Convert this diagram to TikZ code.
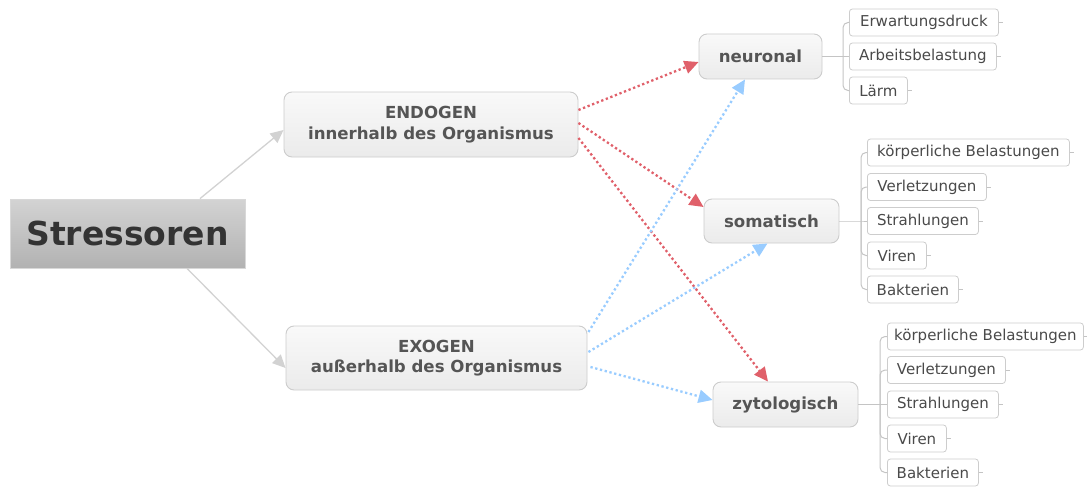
\documentclass[tikz,border=0pt]{standalone}
\usepackage{fontspec}
\setmainfont{DejaVu Sans}
\usetikzlibrary{arrows.meta,calc}
\definecolor{roottop}{HTML}{D3D3D3}
\definecolor{rootbot}{HTML}{B2B2B2}
\definecolor{rootborder}{HTML}{D8D8D8}
\definecolor{roottext}{HTML}{333333}
\definecolor{boxtop}{HTML}{F9F9F9}
\definecolor{boxbot}{HTML}{EBEBEB}
\definecolor{boxborder}{HTML}{CCCCCC}
\definecolor{boxtext}{HTML}{555555}
\definecolor{leafborder}{HTML}{CDCDCD}
\definecolor{leaftext}{HTML}{4A4A4A}
\definecolor{spinegray}{HTML}{C4C4C4}
\definecolor{linkgray}{HTML}{D2D2D2}
\definecolor{linkred}{HTML}{E0606A}
\definecolor{linkblue}{HTML}{99CCFF}
\begin{document}
\begin{tikzpicture}[x=1pt,y=-1pt,
  rootbox/.style={draw=rootborder, line width=0.8pt, top color=roottop, bottom color=rootbot,
    minimum width=235pt, minimum height=69pt, inner sep=0pt,
    font=\fontsize{33}{36}\selectfont\bfseries, text=roottext},
  mainbox/.style={draw=boxborder, line width=0.9pt, rounded corners=8pt, top color=boxtop,
    bottom color=boxbot, inner sep=0pt, font=\fontsize{16.6}{20.5}\selectfont\bfseries,
    text=boxtext, align=center},
  leaf/.style={draw=leafborder, line width=0.8pt, rounded corners=3pt, fill=white,
    minimum height=27pt, inner sep=0pt, font=\fontsize{15}{18}\selectfont,
    text=leaftext, anchor=west},
  spine/.style={draw=spinegray, line width=1pt},
  graylink/.style={draw=linkgray, line width=1.3pt, -{Triangle[length=13pt,width=12pt,fill=linkgray]}},
  redlink/.style={draw=linkred, line width=2.3pt, dash pattern=on 2.3pt off 2.6pt,
    -{Triangle[length=14pt,width=13pt,fill=linkred]}},
  bluelink/.style={draw=linkblue, line width=2.3pt, dash pattern=on 2.3pt off 2.6pt,
    -{Triangle[length=14pt,width=13pt,fill=linkblue]}}
]
\useasboundingbox (0,0) rectangle (1087,487);

% main nodes
\node[rootbox] (str) at (127.5,233.5) {Stressoren};
\node[mainbox, minimum width=294pt, minimum height=65pt] (endo) at (431,124.5) {ENDOGEN\\innerhalb des Organismus};
\node[mainbox, minimum width=301pt, minimum height=64pt] (exo) at (436.5,358) {EXOGEN\\außerhalb des Organismus};
\node[mainbox, minimum width=123pt, minimum height=45pt] (neu) at (760.5,56.5) {neuronal};
\node[mainbox, minimum width=135pt, minimum height=44pt] (som) at (771.5,221) {somatisch};
\node[mainbox, minimum width=145pt, minimum height=45pt] (zyt) at (785.5,404.5) {zytologisch};

% leaves neuronal
\node[leaf, minimum width=149pt] (n1) at (849,22.5) {Erwartungsdruck};
\node[leaf, minimum width=147pt] (n2) at (849,56.5) {Arbeitsbelastung};
\node[leaf, minimum width=58pt]  (n3) at (849,90.5) {Lärm};

% leaves somatisch
\node[leaf, minimum width=202pt] (s1) at (867,152.5) {körperliche Belastungen};
\node[leaf, minimum width=119pt] (s2) at (867,187) {Verletzungen};
\node[leaf, minimum width=111pt] (s3) at (867,221) {Strahlungen};
\node[leaf, minimum width=59pt]  (s4) at (867,255.5) {Viren};
\node[leaf, minimum width=91pt]  (s5) at (867,289.5) {Bakterien};

% leaves zytologisch
\node[leaf, minimum width=196pt] (z1) at (887,336.5) {körperliche Belastungen};
\node[leaf, minimum width=118pt] (z2) at (887,370) {Verletzungen};
\node[leaf, minimum width=111pt] (z3) at (887,404.5) {Strahlungen};
\node[leaf, minimum width=59pt]  (z4) at (887,438.5) {Viren};
\node[leaf, minimum width=91pt]  (z5) at (887,472.5) {Bakterien};

% spines
\coordinate (nj) at (843,56.5);
\coordinate (sj) at (861,221);
\coordinate (zj) at (880,404.5);
\draw[spine] (neu.east) -- (nj) -- (n2.west);
\draw[spine] (som.east) -- (sj) -- (s3.west);
\draw[spine] (zyt.east) -- (zj) -- (z3.west);
\foreach \l in {n1,n3} \draw[spine, rounded corners=5pt] (nj) |- (\l.west);
\foreach \l in {s1,s2,s4,s5} \draw[spine, rounded corners=5pt] (sj) |- (\l.west);
\foreach \l in {z1,z2,z4,z5} \draw[spine, rounded corners=5pt] (zj) |- (\l.west);

% small ticks on the right of leaves
\foreach \l in {n1,n2,n3,s1,s2,s3,s4,s5,z1,z2,z3,z4,z5}
  \draw[spine, line width=0.8pt] (\l.east) -- ++(4,0);

% gray connectors
\draw[graylink] ([xshift=72.5pt]str.north) -- ([yshift=-5.5pt]endo.west);
\draw[graylink] ([xshift=59.5pt]str.south) -- ([yshift=-10pt]exo.west);

% red dotted connectors
\draw[redlink] ([yshift=14.5pt]endo.east) -- ([yshift=-5.5pt]neu.west);
\draw[redlink] ([yshift=1.5pt]endo.east) -- ([yshift=14pt]som.west);
\draw[redlink] ([yshift=-13.5pt]endo.east) -- ([xshift=-17.5pt]zyt.north);

% blue dotted connectors
\draw[bluelink] ([xshift=1pt,yshift=26pt]exo.east) -- ([xshift=-15.5pt]neu.south);
\draw[bluelink] ([xshift=1pt,yshift=6pt]exo.east) -- ([xshift=-4pt]som.south);
\draw[bluelink] ([xshift=3pt,yshift=-9pt]exo.east) -- ([yshift=4.5pt]zyt.west);
\end{tikzpicture}
\end{document}
